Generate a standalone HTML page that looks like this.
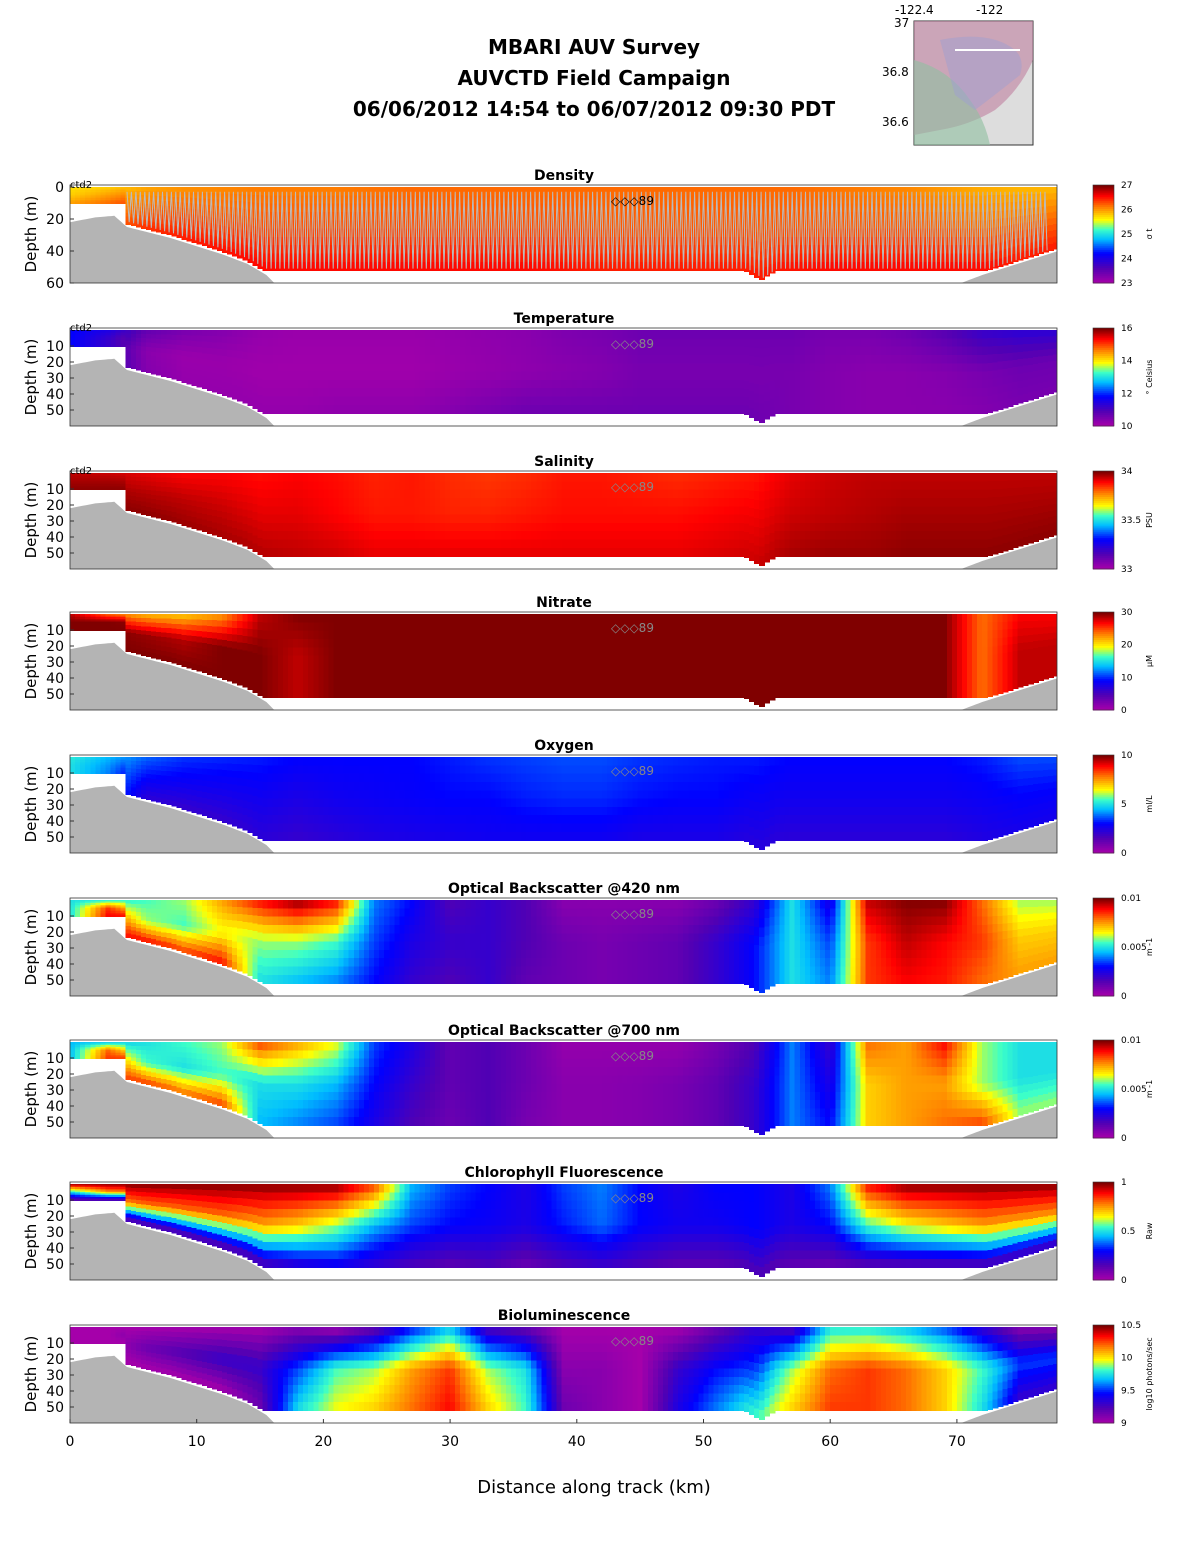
<!DOCTYPE html>
<html><head><meta charset="utf-8">
<style>
body{margin:0;background:#fff;}
svg{display:block;font-family:"DejaVu Sans","Liberation Sans",sans-serif;}
</style></head>
<body>
<svg id="fig" width="1188" height="1548" viewBox="0 0 1188 1548">
<g font-weight="bold" font-size="20" text-anchor="middle" fill="#000">
<text x="594" y="54">MBARI AUV Survey</text>
<text x="594" y="85">AUVCTD Field Campaign</text>
<text x="594" y="116">06/06/2012 14:54  to 06/07/2012 09:30 PDT</text>
</g>
<g font-size="12">
<rect x="914" y="21" width="119" height="124" fill="#ddd" stroke="#333"/>
<path d="M914 21 L1033 21 L1033 60 Q1020 90 995 110 Q970 125 940 130 L914 135 Z" fill="#c080a0" opacity="0.6"/>
<path d="M914 60 Q950 70 970 100 Q985 120 990 145 L914 145 Z" fill="#8fc0a0" opacity="0.6"/>
<path d="M940 40 Q990 30 1015 50 Q1025 60 1020 75 Q995 95 975 110 L955 95 Z" fill="#a0a0d0" opacity="0.5"/>
<line x1="955" y1="50" x2="1020" y2="50" stroke="#fff" stroke-width="2"/>
<text x="895" y="14">-122.4</text><text x="976" y="14">-122</text>
<text x="894" y="27">37</text><text x="882" y="76">36.8</text><text x="882" y="126">36.6</text>
</g>
<g id="panels"></g>
<g id="xaxis" font-size="14"></g>
<text x="594" y="1493" font-size="18" text-anchor="middle">Distance along track (km)</text>
</svg>
<script>
const kmTicks=[0,10,20,30,40,50,60,70];
const colKm=[0,3,6,9,12,15,18,21,24,27,30,33,36,39,42,45,48,51,54,57,60,63,66,69,72,75];
const bathyKm=[0,2,3.5,4.5,6,8,10,12,14,15.5,16.5,69,70,71,72,74,76,78];
const bathyDepth=[22,19,18,25,28,32,37,42,48,55,63,63,61,58,55,50,45,40];
const panelTitles=["Density","Temperature","Salinity","Nitrate","Oxygen","Optical Backscatter @420 nm","Optical Backscatter @700 nm","Chlorophyll Fluorescence","Bioluminescence"];
const cbTicks=[["27","26","25","24","23"],["16","14","12","10"],["34","33.5","33"],["30","20","10","0"],["10","5","0"],["0.01","0.005","0"],["0.01","0.005","0"],["1","0.5","0"],["10.5","10","9.5","9"]];
const cbUnits=["σ t","° Celsius","PSU","μM","ml/L","m -1","m -1","Raw","log10 photons/sec"];
const densityTop=[.68,.7,.74,.76,.77,.78,.78,.78,.79,.8,.8,.8,.8,.8,.8,.8,.8,.8,.8,.8,.79,.78,.77,.75,.73,.72];
const densityMid=[.7,.75,.8,.82,.82,.83,.83,.83,.83,.83,.83,.83,.83,.83,.82,.82,.82,.82,.82,.82,.82,.82,.82,.81,.8,.8];
const densityBot=[.75,.8,.86,.88,.89,.9,.9,.9,.9,.9,.9,.9,.9,.89,.88,.88,.88,.88,.88,.89,.9,.9,.9,.9,.9,.88];
const tempTop=[.3,.25,.12,.08,.06,.03,.02,.02,.02,.02,.03,.04,.05,.07,.08,.1,.1,.1,.1,.1,.08,.08,.1,.14,.2,.22];
const tempMid=[.3,.2,.05,.02,.02,.01,.01,.01,.01,.01,.02,.03,.04,.05,.06,.08,.08,.08,.08,.08,.06,.05,.05,.06,.08,.1];
const tempBot=[.3,.2,.06,.03,.03,.03,.03,.04,.04,.04,.06,.08,.1,.1,.1,.1,.1,.1,.1,.08,.06,.05,.05,.05,.06,.08];
const salTop=[.95,.94,.92,.9,.9,.89,.9,.89,.87,.88,.86,.85,.86,.88,.88,.87,.86,.87,.88,.92,.94,.95,.95,.95,.95,.95];
const salMid=[.97,.97,.96,.95,.94,.92,.92,.9,.88,.88,.87,.87,.88,.89,.89,.89,.89,.9,.91,.94,.95,.96,.97,.97,.97,.97];
const salBot=[.99,.99,.99,.98,.97,.96,.95,.94,.92,.92,.92,.92,.92,.92,.92,.92,.92,.93,.94,.97,.98,.98,.99,.99,.99,.99];
const nitTop=[.95,.8,.72,.7,.75,.95,1,1,1,1,1,1,1,1,1,1,1,1,1,1,1,1,1,1,.8,.9];
const nitMid=[1,1,.98,.96,1,1,.95,1,1,1,1,1,1,1,1,1,1,1,1,1,1,1,1,1,.8,.95];
const nitBot=[1,1,1,1,1,1,.95,1,1,1,1,1,1,1,1,1,1,1,1,1,1,1,1,1,.8,.95];
const oxyTop=[.52,.45,.38,.34,.33,.32,.3,.3,.3,.3,.32,.34,.35,.36,.36,.34,.33,.32,.32,.3,.3,.3,.3,.3,.32,.36];
const oxyMid=[.5,.42,.3,.28,.27,.27,.25,.27,.28,.29,.3,.3,.32,.33,.33,.31,.3,.3,.28,.27,.27,.27,.27,.27,.28,.3];
const oxyBot=[.5,.4,.22,.2,.2,.22,.2,.22,.24,.25,.26,.27,.27,.27,.27,.25,.25,.25,.23,.22,.22,.22,.22,.22,.24,.26];
const b420Top=[.5,.5,.55,.6,.75,.9,1,.9,.4,.3,.15,.2,.15,.05,.05,.05,.05,.1,.2,.5,.25,.95,1,1,.8,.6];
const b420Mid=[.5,.85,.6,.55,.65,.6,.6,.55,.35,.25,.2,.2,.15,.1,.08,.1,.12,.2,.3,.5,.35,.85,.95,.9,.85,.7];
const b420Bot=[.5,.9,.9,.85,.9,.5,.45,.4,.3,.2,.15,.2,.12,.1,.08,.1,.12,.2,.3,.5,.4,.85,.9,.88,.8,.75];
const b700Top=[.45,.45,.5,.55,.6,.85,.75,.65,.35,.25,.12,.15,.1,.03,.03,.03,.03,.08,.15,.4,.2,.8,.75,.9,.6,.5];
const b700Mid=[.45,.8,.55,.5,.55,.5,.5,.45,.3,.2,.12,.15,.1,.05,.05,.06,.08,.12,.2,.4,.25,.7,.75,.75,.6,.5];
const b700Bot=[.45,.85,.85,.8,.85,.45,.4,.35,.25,.15,.1,.15,.08,.05,.05,.06,.08,.12,.2,.4,.3,.7,.75,.8,.85,.6];
const chlTop=[1,1,1,1,1,1,1,1,.85,.45,.35,.3,.25,.35,.4,.3,.25,.3,.3,.25,.4,.9,1,1,1,1];
const chlMid=[.5,.75,.8,.8,.8,.75,.7,.6,.45,.35,.3,.28,.25,.32,.38,.3,.27,.27,.3,.25,.3,.55,.65,.7,.75,.75];
const chlBot=[.1,.1,.1,.1,.1,.12,.2,.25,.2,.15,.12,.15,.1,.15,.18,.15,.12,.12,.15,.12,.1,.12,.12,.12,.12,.15];
const bioTop=[0,0,0,0,0,0,.05,0,.1,.3,.45,.15,.1,0,0,0,0,.1,.2,.15,.5,.5,.45,.35,.2,.05];
const bioMid=[0,0,.1,.15,.2,.2,.35,.55,.6,.75,.85,.6,.5,.05,.05,0,.2,.3,.35,.6,.8,.85,.8,.7,.55,.35];
const bioBot=[0,0,0,0,0,.1,.5,.65,.7,.8,.9,.7,.55,.1,.05,0,.25,.4,.55,.7,.85,.85,.8,.7,.5,.2];
const panelData=[[densityTop,densityMid,densityBot],[tempTop,tempMid,tempBot],[salTop,salMid,salBot],[nitTop,nitMid,nitBot],[oxyTop,oxyMid,oxyBot],[b420Top,b420Mid,b420Bot],[b700Top,b700Mid,b700Bot],[chlTop,chlMid,chlBot],[bioTop,bioMid,bioBot]];

const NS="http://www.w3.org/2000/svg";
const X0=70,PXKM=12.67,PLOT_R=1057,PANEL_H=98,PX_M=1.6;
const panelTops=[185,328,471,612,755,898,1040,1182,1325];
const xs=km=>X0+km*PXKM;
const stops=[[0,[165,0,170]],[.15,[80,0,180]],[.3,[0,0,255]],[.45,[0,190,255]],[.55,[60,255,200]],[.65,[255,255,0]],[.78,[255,130,0]],[.9,[255,0,0]],[1,[128,0,0]]];
function cmap(t){t=Math.max(0,Math.min(1,t));for(let i=1;i<stops.length;i++){if(t<=stops[i][0]){const a=stops[i-1],b=stops[i];const f=(t-a[0])/(b[0]-a[0]);return`rgb(${a[1].map((v,k)=>Math.round(v+(b[1][k]-v)*f)).join(",")})`;}}return"rgb(128,0,0)";}
function bathy(km){for(let i=1;i<bathyKm.length;i++){if(km<=bathyKm[i]){const f=(km-bathyKm[i-1])/(bathyKm[i]-bathyKm[i-1]);return bathyDepth[i-1]+f*(bathyDepth[i]-bathyDepth[i-1]);}}return bathyDepth[bathyDepth.length-1];}
function dataBottom(km){if(km<4.3)return 10;let base=52;if(km>53.3&&km<55.7)base=52+6*(1-Math.abs(km-54.5)/1.2);return Math.min(base,bathy(km)-2);}
function sampleCol(row,km){const f=km/3;const i=Math.min(colKm.length-1,Math.floor(f));const j=Math.min(colKm.length-1,i+1);const w=f-i;return row[i]*(1-w)+row[j]*w;}
function sample(grid,km,frac){const r=frac*2;const i=Math.min(1,Math.floor(r));const w=r-i;return sampleCol(grid[i],km)*(1-w)+sampleCol(grid[i+1],km)*w;}
function el(tag,attrs,parent){const e=document.createElementNS(NS,tag);for(const k in attrs)e.setAttribute(k,attrs[k]);parent.appendChild(e);return e;}
const root=document.getElementById("panels");
const NR=10,DK=0.4;
panelData.forEach((grid,p)=>{
  const top=panelTops[p];const ys=d=>top+2+d*PX_M;
  const g=el("g",{},root);
  
  
  const cid="clip"+p;
  const cp=el("clipPath",{id:cid},g);el("rect",{x:X0,y:top,width:PLOT_R-X0,height:PANEL_H},cp);
  const inner=el("g",{"clip-path":`url(#${cid})`},g);
  el("rect",{x:X0,y:top,width:PLOT_R-X0,height:PANEL_H,fill:"#fff"},inner);
  const cells=el("g",{"shape-rendering":"crispEdges"},inner);
  for(let kk=0;kk<78;kk+=DK){
    const db=dataBottom(kk+DK/2);
    for(let r=0;r<NR;r++){
      const v=sample(grid,kk+DK/2,(r+0.5)/NR);
      const y1=ys(db*r/NR),y2=ys(db*(r+1)/NR);
      const cell=el("rect",{x:xs(kk).toFixed(1),y:y1.toFixed(1),width:(DK*PXKM+0.8).toFixed(1),height:(y2-y1+0.8).toFixed(1),fill:cmap(v)},cells);
      
      
    }
  }
  let pts=[];for(let k=0;k<=78;k+=0.25)pts.push(`${xs(k).toFixed(1)},${ys(bathy(k)).toFixed(1)}`);
  const bp=el("polygon",{points:`${xs(0)},${top+PANEL_H} ${pts.join(" ")} ${xs(78)},${top+PANEL_H}`,fill:"#b4b4b4"},inner);
  
  
  if(p===0){
    let zz=[];for(let k=4.5;k<77;k+=0.35){zz.push(`${xs(k).toFixed(1)},${ys(3)}`);zz.push(`${xs(k+0.17).toFixed(1)},${ys(dataBottom(k)-1).toFixed(1)}`);}
    const yo=el("polyline",{points:zz.join(" "),fill:"none",stroke:"#bbb","stroke-width":1},inner);
    
    
  }
  el("rect",{x:X0,y:top,width:PLOT_R-X0,height:PANEL_H,fill:"none",stroke:"#333","stroke-width":0.8},g);
  const t=el("text",{x:564,y:top-5,"font-size":14,"font-weight":"bold","text-anchor":"middle"},g);t.textContent=panelTitles[p];
  
  
  const mk=el("text",{x:611,y:top+20,"font-size":12,fill:p===0?"#000":"#888"},g);mk.textContent="◇◇◇89";
  if(p<3){const c2=el("text",{x:X0,y:top+3,"font-size":10},g);c2.textContent="ctd2";}
  const yt=p===0?[0,20,40,60]:[10,20,30,40,50];
  yt.forEach(d=>{const y=p===0?top+2+d*1.6:ys(d);el("line",{x1:X0,x2:X0+4,y1:y,y2:y,stroke:"#333"},g);const tx=el("text",{x:X0-6,y:y+5,"font-size":14,"text-anchor":"end"},g);tx.textContent=d;});
  const yl=el("text",{x:36,y:top+PANEL_H/2,"font-size":15,"text-anchor":"middle",transform:`rotate(-90 36 ${top+PANEL_H/2})`},g);yl.textContent="Depth (m)";
  
  
  const cb=el("g",{},g);
  
  
  for(let i=0;i<50;i++){el("rect",{x:1093,y:(top+PANEL_H-(i+1)*PANEL_H/50).toFixed(1),width:21,height:(PANEL_H/50+0.5).toFixed(1),fill:cmap(i/49)},cb);}
  el("rect",{x:1093,y:top,width:21,height:PANEL_H,fill:"none",stroke:"#333","stroke-width":0.6},cb);
  const ticks=cbTicks[p];
  ticks.forEach((lab,i)=>{const y=top+i*(PANEL_H/(ticks.length-1));const tx=el("text",{x:1121,y:y+3,"font-size":9},cb);tx.textContent=lab;});
  const ul=el("text",{x:1152,y:top+PANEL_H/2,"font-size":8,"text-anchor":"middle",transform:`rotate(-90 1152 ${top+PANEL_H/2})`},cb);ul.textContent=cbUnits[p];
});
const xa=document.getElementById("xaxis");
kmTicks.forEach(k=>{const x=xs(k);el("line",{x1:x,x2:x,y1:1423,y2:1419,stroke:"#333"},xa);const t=el("text",{x:x,y:1446,"text-anchor":"middle"},xa);t.textContent=k;

});
</script>
</body></html>
